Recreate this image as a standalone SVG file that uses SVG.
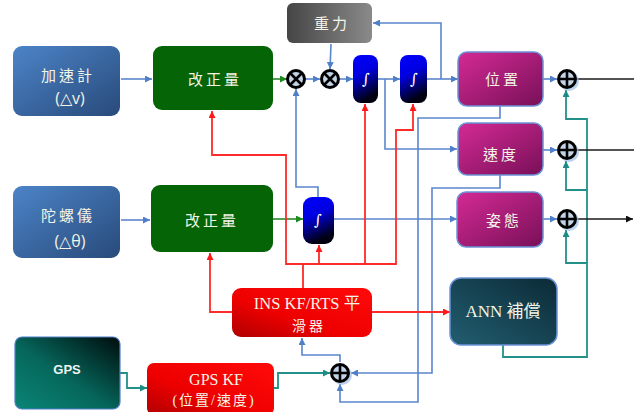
<svg xmlns="http://www.w3.org/2000/svg" width="634" height="412" viewBox="0 0 634 412">
  <defs>
    <linearGradient id="gSensor" x1="0" y1="0" x2="1" y2="1">
      <stop offset="0" stop-color="#4c84c8"/>
      <stop offset="1" stop-color="#284a7a"/>
    </linearGradient>
    <linearGradient id="gGray" x1="0" y1="0" x2="1" y2="0">
      <stop offset="0" stop-color="#454545"/>
      <stop offset="1" stop-color="#8a8a8a"/>
    </linearGradient>
    <linearGradient id="gMag" x1="0" y1="0" x2="1" y2="1">
      <stop offset="0" stop-color="#d42a94"/>
      <stop offset="1" stop-color="#781058"/>
    </linearGradient>
    <linearGradient id="gAnn" x1="0" y1="1" x2="1" y2="0">
      <stop offset="0" stop-color="#215e70"/>
      <stop offset="1" stop-color="#0c2a36"/>
    </linearGradient>
    <linearGradient id="gGps" x1="0" y1="1" x2="1" y2="0">
      <stop offset="0" stop-color="#0a8576"/>
      <stop offset="0.45" stop-color="#06675c"/>
      <stop offset="1" stop-color="#000c0c"/>
    </linearGradient>
    <linearGradient id="gRed" x1="1" y1="0" x2="0" y2="1">
      <stop offset="0" stop-color="#ff0a0a"/>
      <stop offset="0.6" stop-color="#ee0000"/>
      <stop offset="1" stop-color="#b00000"/>
    </linearGradient>
    <linearGradient id="gInt" x1="0" y1="0" x2="0.3" y2="1">
      <stop offset="0" stop-color="#0000ff"/>
      <stop offset="0.45" stop-color="#0000e0"/>
      <stop offset="1" stop-color="#000010"/>
    </linearGradient>
    <marker id="aBlue" viewBox="0 0 10 10" refX="10" refY="5" markerWidth="7" markerHeight="7" orient="auto" markerUnits="userSpaceOnUse">
      <path d="M0,0 L10,5 L0,10 z" fill="#4f7fc8"/>
    </marker>
    <marker id="aRed" viewBox="0 0 10 10" refX="10" refY="5" markerWidth="7" markerHeight="7" orient="auto" markerUnits="userSpaceOnUse">
      <path d="M0,0 L10,5 L0,10 z" fill="#ff1a1a"/>
    </marker>
    <marker id="aGreen" viewBox="0 0 10 10" refX="10" refY="5" markerWidth="7" markerHeight="7" orient="auto" markerUnits="userSpaceOnUse">
      <path d="M0,0 L10,5 L0,10 z" fill="#1f8a1f"/>
    </marker>
    <marker id="aTeal" viewBox="0 0 10 10" refX="10" refY="5" markerWidth="7" markerHeight="7" orient="auto" markerUnits="userSpaceOnUse">
      <path d="M0,0 L10,5 L0,10 z" fill="#1c8c86"/>
    </marker>
    <marker id="aBlack" viewBox="0 0 10 10" refX="10" refY="5" markerWidth="7" markerHeight="7" orient="auto" markerUnits="userSpaceOnUse">
      <path d="M0,0 L10,5 L0,10 z" fill="#111"/>
    </marker>
  </defs>
  <style>
    .cn { font-family: "Noto Sans CJK TC", "Noto Sans CJK SC", sans-serif; font-size: 15px; fill: #f4f4e6; text-anchor: middle; letter-spacing: 3px; }
    .lat { font-family: "Liberation Serif", "Noto Sans CJK TC", serif; fill: #f4f4e6; text-anchor: middle; }
    .sans { font-family: "Open Sans", "Liberation Sans", sans-serif; font-size: 16px; fill: #f4f4e6; text-anchor: middle; }
    .int { font-family: "DejaVu Serif", serif; font-size: 15px; fill: #ffffff; text-anchor: middle; }
    .blue { fill: none; stroke: #5a86cc; stroke-width: 1.6; }
    .red { fill: none; stroke: #ff2a2a; stroke-width: 1.8; }
    .green { fill: none; stroke: #2a8a2a; stroke-width: 1.6; }
    .teal { fill: none; stroke: #24908a; stroke-width: 1.8; }
    .black { fill: none; stroke: #1a1a1a; stroke-width: 1.6; }
    .op { fill: #c3d3e6; stroke: #000; stroke-width: 3; }
    .opl { stroke: #000; stroke-width: 2.6; }
    .halo { fill: #9fbde6; opacity: 0.7; }
    .edge { stroke: #6b93d6; stroke-width: 1.5; }
  </style>

  <!-- connectors -->
  <g id="connectors">
    <!-- blue signal paths -->
    <path class="blue" d="M121,79 H152" marker-end="url(#aBlue)"/>
    <path class="blue" d="M121,220 H150" marker-end="url(#aBlue)"/>
    <path class="blue" d="M306,79 H320" marker-end="url(#aBlue)"/>
    <path class="blue" d="M340,79 H353" marker-end="url(#aBlue)"/>
    <path class="blue" d="M378,79 H400" marker-end="url(#aBlue)"/>
    <path class="blue" d="M385,79 V149 H457" marker-end="url(#aBlue)"/>
    <path class="blue" d="M427,79 H458" marker-end="url(#aBlue)"/>
    <path class="blue" d="M441,79 V23 H373" marker-end="url(#aBlue)"/>
    <path class="blue" d="M331,44 L330,69" marker-end="url(#aBlue)"/>
    <path class="blue" d="M318,197 V187 H296 V89" marker-end="url(#aBlue)"/>
    <path class="blue" d="M334,219 H457" marker-end="url(#aBlue)"/>
    <path class="blue" d="M543,79 H557" marker-end="url(#aBlue)"/>
    <path class="blue" d="M543,150 H557" marker-end="url(#aBlue)"/>
    <path class="blue" d="M543,219 H557" marker-end="url(#aBlue)"/>
    <path class="blue" d="M500,106 V118 H418 V402 H340 V384" marker-end="url(#aBlue)"/>
    <path class="blue" d="M500,175 V188 H432 V373 H351" marker-end="url(#aBlue)"/>
    <path class="blue" d="M340,362 V355 H302 V338" marker-end="url(#aBlue)"/>

    <!-- green correction outputs -->
    <path class="green" d="M273,79 H287" marker-end="url(#aGreen)"/>
    <path class="green" d="M273,219 H303" marker-end="url(#aGreen)"/>

    <!-- red filter feedback -->
    <path class="red" d="M232,312 H210 V253" marker-end="url(#aRed)"/>
    <path class="red" d="M303,288 V264 H286 V155 H212 V111" marker-end="url(#aRed)"/>
    <path class="red" d="M303,264 H396 V130 H413 V104" marker-end="url(#aRed)"/>
    <path class="red" d="M319,264 V245" marker-end="url(#aRed)"/>
    <path class="red" d="M365,264 V104" marker-end="url(#aRed)"/>
    <path class="red" d="M372,312 H450" marker-end="url(#aRed)"/>

    <!-- teal GPS / ANN paths -->
    <path class="teal" d="M120,373 H127 V388 H147" marker-end="url(#aTeal)"/>
    <path class="teal" d="M274,388 H278 V373 H330" marker-end="url(#aTeal)"/>
    <path class="teal" d="M503,345 V357 H587 V119 H566 V90" marker-end="url(#aTeal)"/>
    <path class="teal" d="M587,190 H566 V161" marker-end="url(#aTeal)"/>
    <path class="teal" d="M587,263 H566 V230" marker-end="url(#aTeal)"/>

    <!-- corrected outputs -->
    <path class="black" d="M577,79 H634"/>
    <path class="black" d="M577,150 H634"/>
    <path class="black" d="M577,219 H633" marker-end="url(#aBlack)"/>
  </g>

  <!-- nodes -->
  <g id="accel">
    <rect x="13" y="46" width="107" height="70" rx="9" fill="url(#gSensor)"/>
    <text class="cn" x="68" y="81">加速計</text>
    <text class="sans" x="70" y="104">(△v)</text>
  </g>
  <g id="gyro">
    <rect x="13" y="186" width="107" height="72" rx="9" fill="url(#gSensor)"/>
    <text class="cn" x="68" y="221">陀螺儀</text>
    <text class="sans" x="70" y="247">(△θ)</text>
  </g>
  <g id="corr1">
    <rect x="153" y="46" width="120" height="64" rx="9" fill="#056405"/>
    <text class="cn" x="215" y="85">改正量</text>
  </g>
  <g id="corr2">
    <rect x="151" y="185" width="122" height="67" rx="9" fill="#056405"/>
    <text class="cn" x="212" y="226">改正量</text>
  </g>
  <g id="gravity">
    <rect x="287" y="3" width="85" height="40" rx="6" fill="url(#gGray)"/>
    <text class="cn" x="332" y="29">重力</text>
  </g>
  <g id="mul1">
    <circle class="op" cx="296" cy="79" r="8.5"/>
    <path class="opl" d="M290,73 L302,85 M302,73 L290,85"/>
  </g>
  <g id="mul2">
    <circle class="op" cx="330" cy="79" r="8.5"/>
    <path class="opl" d="M324,73 L336,85 M336,73 L324,85"/>
  </g>
  <g id="int1">
    <rect x="353" y="55" width="25" height="48" rx="8" fill="url(#gInt)"/>
    <text class="int" x="366" y="84">∫</text>
  </g>
  <g id="int2">
    <rect x="400" y="55" width="27" height="48" rx="8" fill="url(#gInt)"/>
    <text class="int" x="414" y="84">∫</text>
  </g>
  <g id="int3">
    <rect x="303" y="197" width="31" height="47" rx="9" fill="url(#gInt)"/>
    <text class="int" x="318" y="225">∫</text>
  </g>
  <g id="position">
    <rect class="edge" x="458" y="52" width="85" height="54" rx="9" fill="url(#gMag)"/>
    <text class="cn" x="503" y="85">位置</text>
  </g>
  <g id="velocity">
    <rect class="edge" x="458" y="123" width="85" height="52" rx="9" fill="url(#gMag)"/>
    <text class="cn" x="501" y="160">速度</text>
  </g>
  <g id="attitude">
    <rect class="edge" x="457" y="192" width="86" height="55" rx="9" fill="url(#gMag)"/>
    <text class="cn" x="504" y="226">姿態</text>
  </g>
  <g id="sum1">
    <circle class="halo" cx="569" cy="81" r="10"/>
    <circle class="op" cx="567" cy="79" r="8.5"/>
    <path class="opl" d="M567,70.5 V87.5 M558.5,79 H575.5"/>
  </g>
  <g id="sum2">
    <circle class="halo" cx="569" cy="152" r="10"/>
    <circle class="op" cx="567" cy="150" r="8.5"/>
    <path class="opl" d="M567,141.5 V158.5 M558.5,150 H575.5"/>
  </g>
  <g id="sum3">
    <circle class="halo" cx="569" cy="221" r="10"/>
    <circle class="op" cx="567" cy="219" r="8.5"/>
    <path class="opl" d="M567,210.5 V227.5 M558.5,219 H575.5"/>
  </g>
  <g id="ins-kf">
    <rect x="232" y="288" width="140" height="49" rx="9" fill="url(#gRed)"/>
    <text class="lat" x="307" y="309" font-size="16.5">INS KF/RTS 平</text>
    <text class="cn" x="309" y="331" style="font-size:14px">滑器</text>
  </g>
  <g id="ann">
    <rect class="edge" x="450" y="278" width="107" height="67" rx="11" fill="url(#gAnn)"/>
    <text class="lat" x="503" y="317" font-size="17">ANN 補償</text>
  </g>
  <g id="gps">
    <rect x="15" y="337" width="105" height="72" rx="7" fill="url(#gGps)" stroke="#4f7fc8" stroke-width="1.2"/>
    <text x="67" y="374" font-family="Liberation Sans, Arial, sans-serif" font-size="13" font-weight="bold" fill="#eef4f4" text-anchor="middle">GPS</text>
  </g>
  <g id="gps-kf">
    <rect x="147" y="363" width="127" height="52" rx="7" fill="url(#gRed)"/>
    <text class="lat" x="216" y="385" font-size="16">GPS KF</text>
    <text class="lat" x="214" y="405" font-size="14" letter-spacing="2">(位置/速度)</text>
  </g>
  <g id="sum4">
    <circle class="halo" cx="342" cy="375" r="10"/>
    <circle class="op" cx="340" cy="373" r="8.5"/>
    <path class="opl" d="M340,364.5 V381.5 M331.5,373 H348.5"/>
  </g>
</svg>
